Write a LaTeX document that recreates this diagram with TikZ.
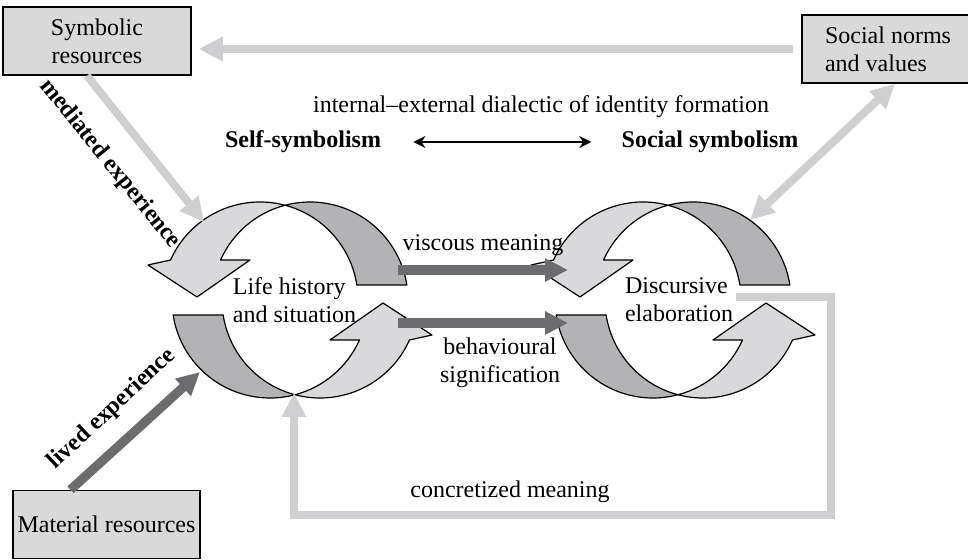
\documentclass[tikz,border=0pt]{standalone}
\usepackage{fontspec}
\setmainfont{Liberation Serif}
\usepackage{xcolor}
\usepackage{tikz}
\usetikzlibrary{arrows.meta}

\definecolor{boxgray}{HTML}{D9D9D9}
\definecolor{bandlight}{HTML}{D9D9DB}
\definecolor{banddark}{HTML}{B3B3B5}
\definecolor{linkgray}{HTML}{CFCFD1}
\definecolor{linkdark}{HTML}{6C6C6F}

% one half of a twisted cycle arrow, centre at (0,0), y up
\newcommand{\halfcycle}{%
  \filldraw[bandline, fill=banddark] (116.85,15) arc[start angle=8.8, end angle=104.78, radius=98]
    arc[start angle=75.22, end angle=8.8, radius=98] -- cycle;
  \filldraw[bandline, fill=bandlight] (-5,94.76) arc[start angle=75.22, end angle=155.91, radius=98]
    -- (-142,35) -- (-93,3) -- (-40,40) -- (-69.46,40)
    arc[start angle=155.91, end angle=104.78, radius=98] -- cycle;
}

\begin{document}
\begin{tikzpicture}[x=0.5pt, y=-0.5pt,
  every node/.style={font=\fontsize{12}{14}\selectfont, inner sep=1pt},
  boldlabel/.style={font=\fontsize{12}{14}\selectfont\bfseries},
  resource/.style={draw=black, line width=0.75pt, fill=boxgray, minimum height=34pt},
  bandline/.style={draw=black, line width=0.6pt, line join=round},
  softlink/.style={draw=linkgray, line width=4pt, -{Triangle[length=12pt,width=11.5pt]}},
  hardlink/.style={draw=linkdark, line width=4.6pt, -{Triangle[length=11.5pt,width=11pt]}},
]
\useasboundingbox (0,0) rectangle (968,560);

% Cycles
\begin{scope}[shift={(290,300)}, yscale=-1]
  \halfcycle
  \begin{scope}[rotate=180] \halfcycle \end{scope}
\end{scope}
\begin{scope}[shift={(673,300)}, yscale=-1]
  \halfcycle
  \begin{scope}[rotate=180] \halfcycle \end{scope}
\end{scope}
\node[align=left] (life) at (294.5,300) {Life history\\and situation};
\node[align=left] (disc) at (679,300) {Discursive\\elaboration};

% Resource boxes
\node[resource, minimum width=94pt, align=center] (symb) at (97,41) {Symbolic\\resources};
\node[resource, minimum width=86pt, align=left] (norms) at (888,49) {Social norms\\and values};
\node[resource, minimum width=93.5pt] (material) at (106.5,524.5) {Material resources};

% Dialectic
\node (dialectic) at (541,107) {internal--external dialectic of identity formation};
\node[boldlabel] (selfsym) at (303,142) {Self-symbolism};
\node[boldlabel] (socsym) at (710,142) {Social symbolism};
\draw[line width=1pt, {Stealth[length=6pt,width=6pt]}-{Stealth[length=6pt,width=6pt]},
  shorten <=15pt, shorten >=14pt] (selfsym.east) -- (socsym.west);

% Ends on the cycles
\coordinate (medtip) at (204,222);
\coordinate (livedtip) at (200,372);
\coordinate (normstip) at (750,220);
\coordinate (viscstart) at (398,270);
\coordinate (viscend) at (568,270);
\coordinate (behstart) at (398,323);
\coordinate (behend) at (568,323);
\coordinate (concstart) at (736,297);
\coordinate (conctip) at (294,393);

% Links
\draw[softlink, shorten <=4pt, shorten >=3.5pt] (norms.west) -- (symb.east |- norms.west);
\draw[softlink] ([xshift=-5pt]symb.south) -- (medtip);
\draw[softlink, {Triangle[length=12pt,width=11.5pt]}-{Triangle[length=12pt,width=11.5pt]}]
  ([xshift=3.5pt]norms.south) -- (normstip);
\draw[hardlink] ([xshift=-18pt]material.north) -- (livedtip);
\draw[hardlink] (viscstart) -- (viscend);
\draw[hardlink] (behstart) -- (behend);
\draw[softlink, line join=miter] (concstart) -| (831,515) -| (conctip);

% Link labels
\node[boldlabel, rotate=-51] (mediated) at (110,164) {mediated experience};
\node[boldlabel, rotate=43] (lived) at (112,409) {lived experience};
\node (viscous) at (483,245) {viscous meaning};
\node[align=center] (behav) at (500,363) {behavioural\\signification};
\node (concr) at (510,492) {concretized meaning};
\end{tikzpicture}
\end{document}
